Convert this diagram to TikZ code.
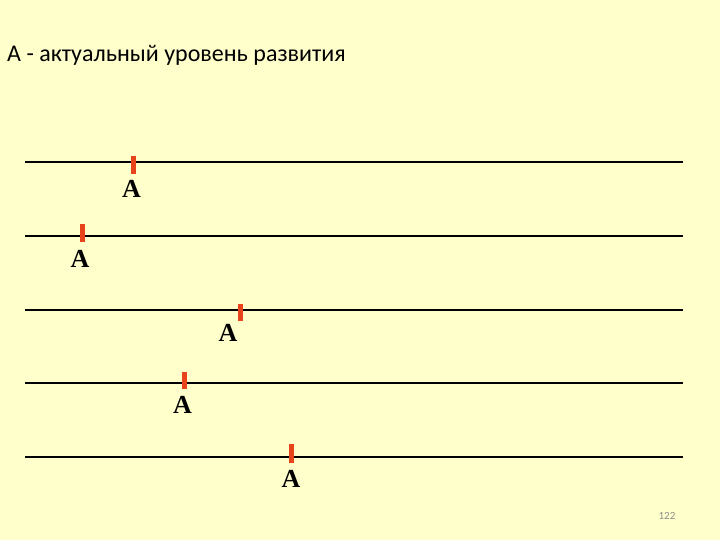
\documentclass[tikz,border=0pt]{standalone}
\usepackage{fontspec}
\setmainfont{Liberation Serif}
\newfontfamily\titlefont{Carlito}
\definecolor{bgyellow}{RGB}{255,255,204}
\definecolor{tickred}{RGB}{232,68,28}
\definecolor{pagegray}{RGB}{140,140,140}
\begin{document}
\begin{tikzpicture}[x=1pt,y=-1pt,
  baseline/.style={line width=2pt,black},
  ticks/.style={line width=5pt,tickred},
  letterA/.style={font=\bfseries\fontsize{26}{26}\selectfont,anchor=base,inner sep=0pt}]
\fill[bgyellow] (0,0) rectangle (720,540);
\useasboundingbox (0,0) rectangle (720,540);
\node[anchor=base west,inner sep=0pt,font=\titlefont\fontsize{24}{24}\selectfont] (title) at (7,61.5) {А - актуальный уровень развития};
% lines
\foreach \y/\n in {162/1,236/2,310/3,383/4,457/5}{
  \coordinate (l\n w) at (25,\y);
  \coordinate (l\n e) at (683,\y);
  \draw[baseline] (l\n w) -- (l\n e);
}
% ticks
\coordinate (t1a) at (133.5,156); \coordinate (t1b) at (133.5,174);
\coordinate (t2a) at (82.5,224);  \coordinate (t2b) at (82.5,242);
\coordinate (t3a) at (240.5,304); \coordinate (t3b) at (240.5,321);
\coordinate (t4a) at (184,372);   \coordinate (t4b) at (184,389);
\coordinate (t5a) at (291.5,444); \coordinate (t5b) at (291.5,463);
\foreach \n in {1,...,5}{\draw[ticks] (t\n a) -- (t\n b);}
% letters
\node[letterA] (a1) at (131.5,198) {A};
\node[letterA] (a2) at (80,267) {A};
\node[letterA] (a3) at (228,341) {A};
\node[letterA] (a4) at (182.5,413) {A};
\node[letterA] (a5) at (291,487) {A};
\node[anchor=base,inner sep=0pt,text=pagegray,font=\titlefont\fontsize{11}{11}\selectfont] (page) at (667,519.5) {122};
\end{tikzpicture}
\end{document}
